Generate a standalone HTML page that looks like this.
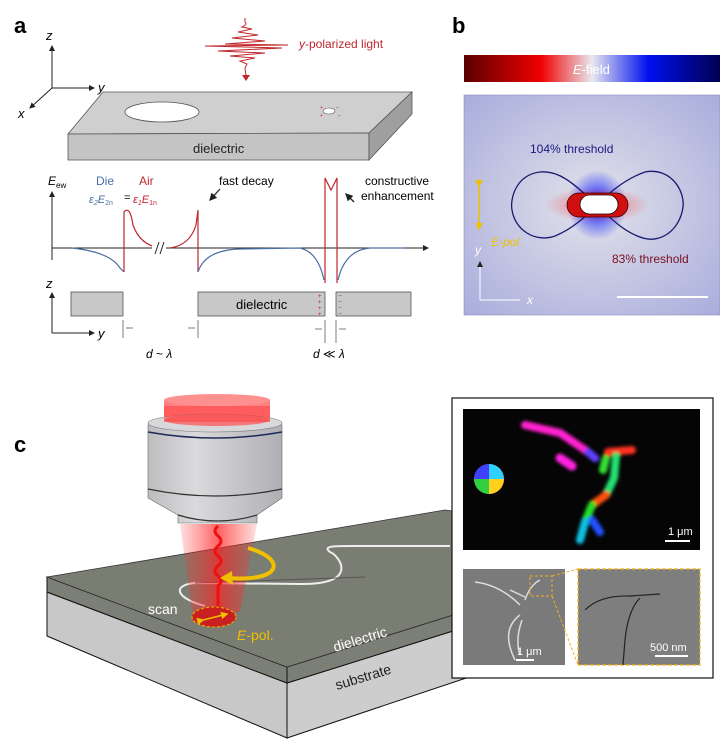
<!DOCTYPE html>
<html><head><meta charset="utf-8"><style>
html,body{margin:0;padding:0;background:#fff}
svg{display:block}
text{font-family:"Liberation Sans",sans-serif}
</style></head><body>
<svg width="720" height="739" viewBox="0 0 720 739" xmlns="http://www.w3.org/2000/svg">
<defs>
<linearGradient id="cb" x1="0" x2="1">
<stop offset="0" stop-color="#5a0000"/><stop offset="0.3" stop-color="#f00000"/><stop offset="0.5" stop-color="#e8e8ee"/><stop offset="0.72" stop-color="#0010f0"/><stop offset="1" stop-color="#000050"/>
</linearGradient>
<radialGradient id="bg" cx="0.5" cy="0.5" r="0.7"><stop offset="0" stop-color="#e2e2ea"/><stop offset="1" stop-color="#a9addc"/></radialGradient>
<radialGradient id="blu" cx="0.5" cy="0.5" r="0.5"><stop offset="0" stop-color="#0010ff"/><stop offset="1" stop-color="#0010ff" stop-opacity="0"/></radialGradient>
<radialGradient id="red" cx="0.5" cy="0.5" r="0.5"><stop offset="0" stop-color="#ff2020" stop-opacity="0.6"/><stop offset="1" stop-color="#ff2020" stop-opacity="0"/></radialGradient>
<linearGradient id="beam" x1="0" x2="1"><stop offset="0" stop-color="#ff3030" stop-opacity="0.15"/><stop offset="0.5" stop-color="#ff2020" stop-opacity="0.7"/><stop offset="1" stop-color="#ff3030" stop-opacity="0.15"/></linearGradient>
<linearGradient id="cyl" x1="0" x2="1"><stop offset="0" stop-color="#bdbdc0"/><stop offset="0.35" stop-color="#dadadc"/><stop offset="1" stop-color="#b0b0b4"/></linearGradient>
<filter id="bl"><feGaussianBlur stdDeviation="1.5"/></filter>
<marker id="ah" markerWidth="6" markerHeight="6" refX="5" refY="3" orient="auto"><path d="M0,0 L6,3 L0,6z" fill="#222"/></marker>
<marker id="ahy" markerWidth="5" markerHeight="5" refX="4" refY="2.5" orient="auto"><path d="M0,0 L5,2.5 L0,5z" fill="#f0c000"/></marker>
</defs>

<!-- Panel a -->
<text x="14" y="33" font-size="22" font-weight="bold">a</text>
<text x="452" y="33" font-size="22" font-weight="bold">b</text>
<g stroke="#222" stroke-width="1" fill="none">
<line x1="52" y1="88" x2="52" y2="46" marker-end="url(#ah)"/>
<line x1="52" y1="88" x2="94" y2="88" marker-end="url(#ah)"/>
<line x1="52" y1="88" x2="30" y2="108" marker-end="url(#ah)"/>
</g>
<text x="46" y="40" font-size="13" font-style="italic">z</text>
<text x="98" y="92" font-size="13" font-style="italic">y</text>
<text x="18" y="118" font-size="13" font-style="italic">x</text>
<path d="M245,18 L245,22 Q248,24 242,27 L252,29 L238,32 L258,35 L232,38 L265,41 L225,44 L288,45 L205,46 L282,48 L218,51 L265,53 L230,56 L255,58 L240,61 L247,64 L245,68 L246,76" fill="none" stroke="#c0272d" stroke-width="1"/>
<path d="M242,75 L246,81 L250,75z" fill="#c0272d"/>
<text x="299" y="48" font-size="12" fill="#c0272d"><tspan font-style="italic">y</tspan>-polarized light</text>
<polygon points="103,92 412,92 369,133 68,134" fill="#cfcfcf" stroke="#555" stroke-width="0.8"/>
<polygon points="68,134 369,133 369,160 68,160" fill="#c4c4c4" stroke="#555" stroke-width="0.8"/>
<polygon points="369,133 412,92 412,114 369,160" fill="#9f9f9f" stroke="#555" stroke-width="0.8"/>
<ellipse cx="162" cy="112" rx="37" ry="10" fill="#fff" stroke="#555" stroke-width="0.8"/>
<ellipse cx="329" cy="111" rx="6" ry="3" fill="#fff" stroke="#555" stroke-width="0.6"/>
<text x="320" y="109" font-size="5" fill="#c0272d">+</text><text x="320" y="117" font-size="5" fill="#c0272d">+</text>
<text x="336" y="109" font-size="5" fill="#334">−</text><text x="338" y="117" font-size="5" fill="#334">−</text>
<text x="193" y="153" font-size="13" fill="#222">dielectric</text>
<line x1="52" y1="260" x2="52" y2="192" stroke="#222" marker-end="url(#ah)"/>
<line x1="52" y1="248" x2="428" y2="248" stroke="#222" marker-end="url(#ah)"/>
<text x="48" y="185" font-size="12" font-style="italic">E<tspan font-size="8" dy="3" font-style="normal">ew</tspan></text>
<text x="96" y="185" font-size="12" fill="#4a6fa5">Die</text>
<text x="139" y="185" font-size="12" fill="#c0272d">Air</text>
<text x="89" y="203" font-size="11" fill="#4a6fa5" font-style="italic">ε<tspan font-size="7" dy="2">2</tspan><tspan dy="-2">E</tspan><tspan font-size="7" dy="2" font-style="normal">2n</tspan></text>
<text x="124" y="201" font-size="11">=</text>
<text x="133" y="203" font-size="11" fill="#c0272d" font-style="italic">ε<tspan font-size="7" dy="2">1</tspan><tspan dy="-2">E</tspan><tspan font-size="7" dy="2" font-style="normal">1n</tspan></text>
<text x="219" y="185" font-size="12">fast decay</text>
<line x1="220" y1="189" x2="210" y2="200" stroke="#222" stroke-width="1.3" marker-end="url(#ah)"/>
<text x="365" y="185" font-size="12">constructive</text>
<text x="361" y="200" font-size="12">enhancement</text>
<line x1="354" y1="202" x2="346" y2="194" stroke="#222" stroke-width="1.3" marker-end="url(#ah)"/>
<g fill="none" stroke-width="1.2">
<path d="M72,248 Q110,252 120,268 L124,272" stroke="#4a6fa5"/>
<path d="M124,272 L124,212 Q130,205 133,225 Q140,245 160,248" stroke="#c0272d"/>
<path d="M170,248 Q190,245 196,225 L198,210 L198,272" stroke="#c0272d"/>
<path d="M198,272 Q205,250 240,249 L300,248 Q318,252 324,280" stroke="#4a6fa5"/>
<path d="M325,283 L325,178 L331,190 L337,178 L337,283" stroke="#c0272d"/>
<path d="M338,280 Q345,250 370,248 L405,248" stroke="#4a6fa5"/>
</g>
<rect x="152" y="240" width="14" height="16" fill="#fff"/>
<line x1="155" y1="254" x2="159" y2="242" stroke="#222"/><line x1="160" y1="254" x2="164" y2="242" stroke="#222"/>
<line x1="52" y1="333" x2="52" y2="293" stroke="#222" marker-end="url(#ah)"/>
<line x1="52" y1="333" x2="94" y2="333" stroke="#222" marker-end="url(#ah)"/>
<text x="46" y="288" font-size="13" font-style="italic">z</text>
<text x="98" y="338" font-size="13" font-style="italic">y</text>
<g fill="#c8c8c8" stroke="#555" stroke-width="0.8">
<rect x="71" y="292" width="52" height="24"/><rect x="198" y="292" width="127" height="24"/><rect x="336" y="292" width="75" height="24"/>
</g>
<text x="236" y="309" font-size="13">dielectric</text>
<g font-size="6" fill="#c0272d"><text x="318" y="298">+</text><text x="318" y="304">+</text><text x="318" y="310">+</text><text x="318" y="316">+</text></g>
<g font-size="7" fill="#4a6fa5"><text x="338" y="298">−</text><text x="338" y="304">−</text><text x="338" y="310">−</text><text x="338" y="316">−</text></g>
<g stroke="#444" stroke-width="0.7">
<line x1="123" y1="320" x2="123" y2="338"/><line x1="198" y1="320" x2="198" y2="338"/>
<line x1="325" y1="320" x2="325" y2="343"/><line x1="336" y1="320" x2="336" y2="343"/>
<line x1="126" y1="328" x2="133" y2="328"/><line x1="188" y1="328" x2="195" y2="328"/>
<line x1="315" y1="329" x2="322" y2="329"/><line x1="339" y1="329" x2="346" y2="329"/>
</g>
<text x="146" y="358" font-size="12" font-style="italic">d <tspan font-style="normal">~</tspan> λ</text>
<text x="313" y="358" font-size="12" font-style="italic">d <tspan font-style="normal">≪</tspan> λ</text>

<!-- Panel b -->
<rect x="464" y="55" width="256" height="27" fill="url(#cb)"/>
<text x="573" y="74" font-size="13" fill="#fff"><tspan font-style="italic">E</tspan>-field</text>
<rect x="464" y="95" width="256" height="220" fill="url(#bg)" stroke="#8a8ec0" stroke-width="0.6"/>
<ellipse cx="597" cy="205" rx="30" ry="35" fill="url(#blu)"/>
<ellipse cx="597" cy="205" rx="52" ry="18" fill="url(#red)"/>
<path d="M597,205 C575,185 560,170 540,172 C515,175 510,200 512,210 C515,230 535,243 555,236 C575,228 590,212 597,205 C605,197 622,180 645,172 C670,167 685,190 683,207 C680,230 660,245 640,237 C620,230 605,212 597,205z" fill="none" stroke="#1a1a70" stroke-width="1.3"/>
<rect x="567" y="193" width="61" height="24" rx="12" fill="#d01010" stroke="#300" stroke-width="0.8"/>
<rect x="580" y="195" width="38" height="19" rx="9.5" fill="#fff" stroke="#200" stroke-width="0.8"/>
<text x="530" y="153" font-size="12" fill="#1a1a80">104% threshold</text>
<text x="612" y="263" font-size="12" fill="#7a1020">83% threshold</text>
<line x1="479" y1="186" x2="479" y2="229" stroke="#f0c000" stroke-width="1.5" marker-end="url(#ahy)" marker-start="url(#ahy)"/>
<text x="491" y="246" font-size="12" fill="#f0c000" font-style="italic">E-pol.</text>
<line x1="480" y1="300" x2="480" y2="262" stroke="#fff" marker-end="url(#ah)"/>
<line x1="480" y1="300" x2="520" y2="300" stroke="#fff"/>
<text x="475" y="254" font-size="12" fill="#fff" font-style="italic">y</text>
<text x="527" y="304" font-size="12" fill="#fff" font-style="italic">x</text>
<line x1="617" y1="297" x2="708" y2="297" stroke="#fff" stroke-width="2"/>

<!-- Panel c -->
<text x="14" y="452" font-size="22" font-weight="bold">c</text>
<polygon points="47,636 287,738 287,683 47,592" fill="#c8c8c8" stroke="#111" stroke-width="1"/>
<polygon points="287,738 520,660 520,610 287,683" fill="#cdcdcd" stroke="#111" stroke-width="1"/>
<polygon points="47,592 287,683 287,667 47,577" fill="#7c7f76" stroke="#111" stroke-width="1"/>
<polygon points="287,683 520,610 520,594 287,667" fill="#7c7f76" stroke="#111" stroke-width="1"/>
<polygon points="47,577 445,510 520,520 520,594 287,667" fill="#7a7d72" stroke="#333" stroke-width="0.8"/>
<text x="335" y="652" font-size="14" fill="#fff" transform="rotate(-17 335 652)">dielectric</text>
<text x="337" y="690" font-size="14" fill="#222" transform="rotate(-17 337 690)">substrate</text>
<path d="M205,606 C175,598 172,585 195,583 L300,584 C360,585 340,556 330,552 C322,546 335,546 350,546 L450,546" fill="none" stroke="#eee" stroke-width="2"/>
<path d="M195,583 L365,577" stroke="#555" stroke-width="1" fill="none"/>
<polygon points="180,524 257,524 240,612 192,612" fill="url(#beam)"/>
<path d="M218,526 q-6,5 0,10 q6,5 0,10 q-6,5 0,10 q6,5 0,10 q-6,5 0,10 q6,5 0,10 L218,610" fill="none" stroke="#ee1111" stroke-width="3"/>
<ellipse cx="214" cy="617" rx="22" ry="10" fill="#c82020" stroke="#f0a000" stroke-dasharray="3,2" stroke-width="1.2"/>
<line x1="203" y1="620" x2="227" y2="614" stroke="#f0c000" stroke-width="1.5" marker-end="url(#ahy)" marker-start="url(#ahy)"/>
<text x="148" y="614" font-size="14" fill="#fff">scan</text>
<text x="237" y="640" font-size="14" fill="#f0c000"><tspan font-style="italic">E</tspan>-pol.</text>
<path d="M248,548 C285,558 285,582 228,578" fill="none" stroke="#f0c000" stroke-width="4"/>
<path d="M232,571 L220,578 L233,585z" fill="#f0c000"/>
<rect x="164" y="400" width="106" height="20" fill="#ff6060" opacity="0.8"/>
<ellipse cx="217" cy="400" rx="53" ry="6" fill="#ff9090"/>
<path d="M148,425 L148,498 L178,515 L178,523 L257,523 L257,515 L282,498 L282,425z" fill="url(#cyl)" stroke="#666" stroke-width="0.6"/>
<ellipse cx="215" cy="423" rx="67" ry="9" fill="#d8d8da" stroke="#777" stroke-width="0.6"/>
<ellipse cx="217" cy="420" rx="53" ry="6" fill="#ff5050" opacity="0.7"/>
<rect x="164" y="406" width="106" height="16" fill="#ff3a3a" opacity="0.5"/>
<path d="M148,432 Q215,444 282,432" fill="none" stroke="#1c2a5a" stroke-width="1.5"/>
<path d="M148,489 Q215,503 282,489" fill="none" stroke="#333" stroke-width="1.2"/>
<path d="M178,515 Q217,527 257,515" fill="none" stroke="#333" stroke-width="1.2"/>
<rect x="452" y="398" width="261" height="280" fill="#fff" stroke="#111" stroke-width="1.2"/>
<rect x="463" y="409" width="237" height="141" fill="#050505"/>
<g fill="none" stroke-linecap="round" stroke-width="8" filter="url(#bl)">
<path d="M525,425 L560,433 L588,452" stroke="#ff20d0"/>
<path d="M588,452 L595,458" stroke="#6040ff"/>
<path d="M560,458 L572,466" stroke="#ff20e0" stroke-width="9"/>
<path d="M603,470 L606,458" stroke="#30e030"/>
<path d="M608,452 L632,450" stroke="#ff3020"/>
<path d="M616,456 L614,478 L606,495" stroke="#20e070"/>
<path d="M606,495 L592,505" stroke="#ff5010"/>
<path d="M592,505 L585,522" stroke="#20e020"/>
<path d="M585,522 L580,540" stroke="#10c0e0"/>
<path d="M592,520 L600,532" stroke="#2050ff"/>
</g>
<circle cx="489" cy="479" r="15" fill="#e04080"/>
<path d="M489,464 A15,15 0 0 1 504,479 L489,479z" fill="#30d0ff"/>
<path d="M489,479 L504,479 A15,15 0 0 1 489,494z" fill="#ffd020"/>
<path d="M489,479 L489,494 A15,15 0 0 1 474,479z" fill="#30d040"/>
<path d="M489,479 L474,479 A15,15 0 0 1 489,464z" fill="#4040ff"/>
<text x="668" y="535" font-size="11" fill="#fff">1 μm</text>
<line x1="665" y1="541" x2="690" y2="541" stroke="#fff" stroke-width="2"/>
<rect x="463" y="569" width="102" height="96" fill="#7a7a7a"/>
<path d="M475,582 Q500,585 520,605 M510,590 L525,597 M525,600 Q530,585 540,580 M520,615 Q500,630 515,660 M522,620 Q515,640 520,655" stroke="#ddd" stroke-width="1.5" fill="none"/>
<rect x="530" y="576" width="22" height="20" fill="none" stroke="#f0b020" stroke-dasharray="3,2"/>
<text x="517" y="655" font-size="11" fill="#fff">1 μm</text>
<line x1="516" y1="660" x2="534" y2="660" stroke="#fff" stroke-width="2"/>
<rect x="578" y="569" width="122" height="96" fill="#7e7e7e" stroke="#f0b020" stroke-dasharray="4,2" stroke-width="1.2"/>
<line x1="552" y1="576" x2="578" y2="569" stroke="#f0b020" stroke-dasharray="3,2"/>
<line x1="552" y1="596" x2="578" y2="665" stroke="#f0b020" stroke-dasharray="3,2"/>
<path d="M585,610 Q600,595 630,596 L660,594 M640,598 Q628,610 625,640 L623,665" stroke="#222" stroke-width="1.2" fill="none"/>
<text x="650" y="651" font-size="11" fill="#fff">500 nm</text>
<line x1="655" y1="656" x2="688" y2="656" stroke="#fff" stroke-width="2"/>
</svg>
</body></html>
